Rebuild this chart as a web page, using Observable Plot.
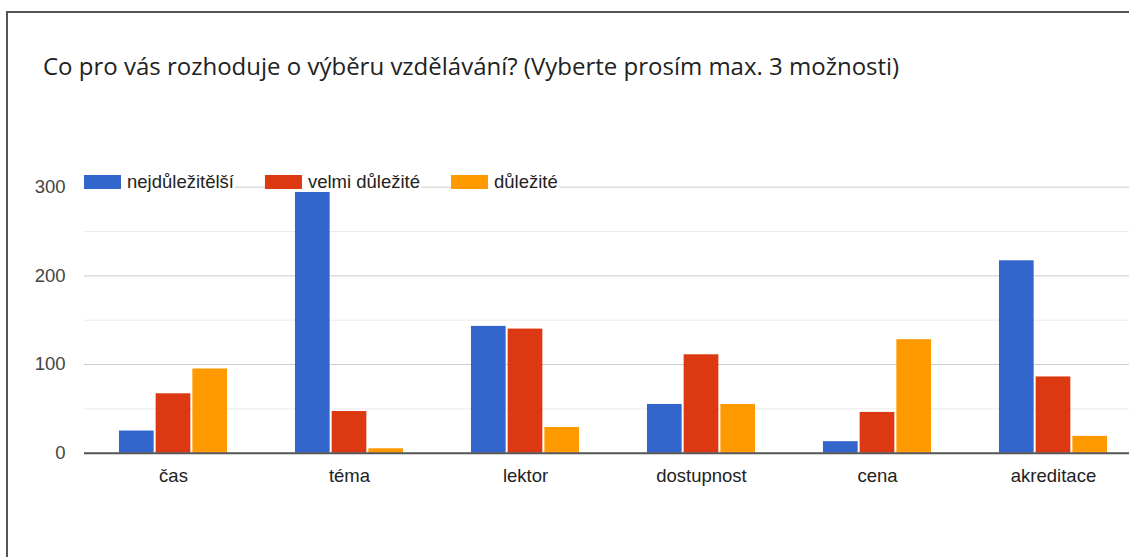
<!DOCTYPE html>
<html>
<head>
<meta charset="utf-8">
<script src="https://cdn.jsdelivr.net/npm/d3@7"></script>
<script src="https://cdn.jsdelivr.net/npm/@observablehq/plot@0.6"></script>
<style>
  html, body { margin: 0; padding: 0; background: #fff; }
  #wrap { position: relative; width: 1129px; height: 557px; overflow: hidden; background: #fff; }
  #frame { position: absolute; left: 6px; top: 11px; right: -10px; bottom: -10px; z-index: 2; pointer-events: none;
           border-left: 2px solid #555; border-top: 2px solid #555; }
  #title { position: absolute; left: 43px; top: 53px; font-family: "Open Sans", Roboto, sans-serif;
           font-size: 24px; line-height: 26px; color: #222; white-space: nowrap; }
  #chart { position: absolute; left: 0; top: 120px; }
</style>
</head>
<body>
<div id="wrap">
  <div id="frame"></div>
  <div id="title">Co pro vás rozhoduje o výběru vzdělávání? (Vyberte prosím max. 3 možnosti)</div>
  <div id="chart"></div>
</div>
<script>
const categories = ["čas", "téma", "lektor", "dostupnost", "cena", "akreditace"];
const series = ["nejdůležitělší", "velmi důležité", "důležité"];
const nejdulezitejsi = [25, 294, 143, 55, 13, 217];
const velmiDulezite = [67, 47, 140, 111, 46, 86];
const dulezite = [95, 5, 29, 55, 128, 19];
const yTicks = [0, 100, 200, 300];
const yMinorTicks = [50, 150, 250];
const colors = ["#3366cc", "#dc3912", "#ff9900"];

const seriesValues = [nejdulezitejsi, velmiDulezite, dulezite];
const rows = series.map((s, j) => categories.map((c, i) => ({category: c, series: s, value: seriesValues[j][i]})));

const barW = 35, step = 36.7, band = 176.3;
const inset = (band - barW) / 2;
const offsets = [-step, 0, step];
const fs = 18.5;

const plot = Plot.plot({
  width: 1129,
  height: 437,
  marginLeft: 84,
  marginRight: 0,
  marginTop: 67,
  marginBottom: 104,
  style: {fontFamily: '"Liberation Sans", Arial, sans-serif', fontSize: fs + "px", color: "#444", background: "transparent"},
  x: {domain: categories, range: [84, 84 + band * categories.length], padding: 0},
  y: {domain: [0, 300], range: [332.7, 66.7]},
  color: {domain: series, range: colors},
  marks: [
    Plot.ruleY(yMinorTicks, {stroke: "#ebebeb", strokeWidth: 1}),
    Plot.ruleY(yTicks.filter(d => d > 0), {stroke: "#cccccc", strokeWidth: 1}),
    ...rows.map((r, j) => Plot.barY(r, {x: "category", y: "value", fill: "series",
      insetLeft: inset, insetRight: inset, dx: offsets[j]})),
    Plot.ruleY([0], {stroke: "#555", strokeWidth: 2}),
    Plot.axisY({ticks: yTicks, tickSize: 0, tickPadding: 19, fontSize: fs, label: null, fill: "#444"}),
    Plot.axisX({tickSize: 0, tickPadding: 15, fontSize: fs, label: null, fill: "#222"})
  ]
});
document.getElementById("chart").appendChild(plot);

// In-chart legend at the top of the plot area
const svg = d3.select(plot);
const colorScale = plot.scale("color");
const lg = svg.append("g").attr("font-family", '"Liberation Sans", Arial, sans-serif')
  .attr("font-size", fs).attr("text-anchor", "start");
let lx = 84;
const ly = 55, sw = 37, sh = 14;
series.forEach((s, j) => {
  const g = lg.append("g");
  const bg = g.append("rect").attr("fill", "#fff");
  g.append("rect").attr("x", lx).attr("y", ly).attr("width", sw).attr("height", sh)
    .attr("fill", colorScale.apply(s));
  const t = g.append("text").attr("x", lx + sw + 6).attr("y", ly + sh / 2).attr("dy", "0.35em")
    .attr("text-anchor", "start").attr("fill", "#222").text(s);
  const tw = t.node().getComputedTextLength();
  bg.attr("x", lx).attr("y", ly - 1).attr("width", sw + 6 + tw + 1).attr("height", sh + 2);
  lx += sw + 6 + tw + 31;
});
</script>
</body>
</html>
